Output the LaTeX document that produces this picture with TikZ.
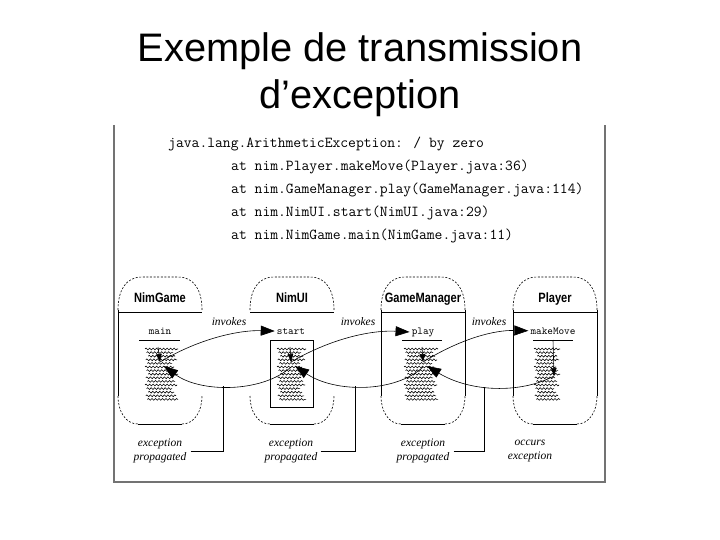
\documentclass[tikz,border=0pt]{standalone}
\usepackage{fontspec}
\setmainfont{Liberation Serif}
\setsansfont{Liberation Sans}
\usetikzlibrary{arrows.meta,decorations.pathmorphing}
\tikzset{
 frame/.style={draw=black!55, line width=1.3pt},
 trace/.style={font=\ttfamily\fontsize{15.2}{16}\selectfont, anchor=base west, inner sep=0},
 title/.style={font=\sffamily\fontsize{39.8}{44}\selectfont, anchor=base, inner sep=0},
 hdr/.style={font=\sffamily\bfseries\fontsize{13.5}{15}\selectfont, inner sep=0, anchor=base},
 meth/.style={font=\ttfamily\fontsize{10.7}{12}\selectfont, inner sep=0, anchor=base},
 lbl/.style={font=\itshape\fontsize{11.5}{14}\selectfont, inner sep=0, align=center},
 capdash/.style={dash pattern=on 2pt off 1.6pt, line width=0.6pt},
 capsolid/.style={line width=0.7pt},
 codeline/.style={line width=0.6pt, decorate, decoration={snake, segment length=3.5pt, amplitude=0.9pt}},
 flow/.style={line width=0.6pt},
 bigtip/.style={-{Triangle[length=14pt,width=10pt]}},
 smalltip/.style={-{Triangle[length=8pt,width=5.5pt]}},
}
\newcommand{\capsuleshape}[2]{%
  \draw[capdash] (#1,310) .. controls (#1,290) and (#1+8,277) .. (#1+24,277) -- (#2-24,277)
     .. controls (#2-8,277) and (#2,290) .. (#2,310);
  \draw[capdash] (#1,396) .. controls (#1,412) and (#1+8,424) .. (#1+20,424);
  \draw[capsolid] (#1+20,424) -- (#2-20,424);
  \draw[capdash] (#2-20,424) .. controls (#2-8,424) and (#2,412) .. (#2,396);
  \draw[capsolid] (#1,312) -- (#2,312);
}
\newcommand{\codeblk}[3]{%
  \foreach \i in {0,...,14}{
    \pgfmathsetmacro{\off}{mod(\i*7,5)*0.8}
    \pgfmathsetmacro{\len}{#3-mod(\i*5,7)}
    \draw[codeline] ({#1+\off},{#2+3.6*\i}) -- ++({\len-\off},0);
  }}
\begin{document}
\begin{tikzpicture}[x=1pt,y=-1pt]
\useasboundingbox (0,0) rectangle (720,540);
% title
\node[title] (t1) at (360,62) {Exemple de transmission};
\node[title] (t2) at (360,109) {d’exception};
% frame
\draw[frame] (114,125) -- (114,482) -- (605,482) -- (605,125);
% stack trace
\node[trace] (s0) at (168,148) {java.lang.ArithmeticException: / by zero};
\node[trace] (s1) at (231,171) {at nim.Player.makeMove(Player.java:36)};
\node[trace] (s2) at (231,194) {at nim.GameManager.play(GameManager.java:114)};
\node[trace] (s3) at (231,217) {at nim.NimUI.start(NimUI.java:29)};
\node[trace] (s4) at (231,240) {at nim.NimGame.main(NimGame.java:11)};
% capsules
\capsuleshape{118}{202}
\capsuleshape{250}{334}
\capsuleshape{381}{465}
\capsuleshape{513}{597}
\draw[capsolid] (118,310) -- (118,396);
\draw[capsolid] (381,310) -- (381,396) (465,310) -- (465,396);
\draw[capsolid] (513,310) -- (513,396) (597,310) -- (597,396);
% headers
\node[hdr] (hg) at (160,302) {\scalebox{0.82}[1]{NimGame}};
\node[hdr] (hu) at (292,302) {\scalebox{0.82}[1]{NimUI}};
\node[hdr] (hm) at (423,302) {\scalebox{0.82}[1]{GameManager}};
\node[hdr] (hp) at (555,302) {\scalebox{0.82}[1]{Player}};
% methods
\node[meth] (main) at (160,334) {main};
\node[meth] (start) at (291,334) {start};
\node[meth] (play) at (423,334) {play};
\node[meth] (mk) at (553,334) {makeMove};
\draw[capsolid] (139,340) -- (180,340);
\draw[capsolid] (270,340) rectangle (313,407);
\draw[capsolid] (402,340) -- (442,340);
\draw[capsolid] (533,340) -- (573,340);
% code
\codeblk{145}{349}{33}
\codeblk{277}{349}{29}
\codeblk{404}{349}{34}
\codeblk{534}{349}{26}
% code points
\coordinate (gTop) at (158,347);
\coordinate (g) at (160,362);
\coordinate (gR) at (164,366);
\coordinate (uTop) at (290,347);
\coordinate (u) at (291,362);
\coordinate (uR) at (295,366);
\coordinate (uS) at (291,367);
\coordinate (mTop) at (422,347);
\coordinate (m) at (423,362);
\coordinate (mR) at (427,366);
\coordinate (mS) at (423,367);
\coordinate (pTop) at (553,340);
\coordinate (p) at (554,376);
% control flow down
\draw[flow,smalltip] (gTop) -- (g);
\draw[flow,smalltip] (uTop) -- (u);
\draw[flow,smalltip] (mTop) -- (m);
\draw[flow,smalltip] (pTop) -- (p);
% invokes
\draw[flow,bigtip] (g) .. controls (200,338) and (240,330) .. ([xshift=-2pt]start.west);
\draw[flow,bigtip] (u) .. controls (332,338) and (372,330) .. ([xshift=-2pt]play.west);
\draw[flow,bigtip] (m) .. controls (462,338) and (495,330) .. ([xshift=-2pt]mk.west);
\node[lbl] (i1) at (229,322) {invokes};
\node[lbl] (i2) at (358,322) {invokes};
\node[lbl] (i3) at (489,322) {invokes};
% returns
\draw[flow,bigtip] (p) .. controls (520,394) and (470,392) .. coordinate[pos=0.57] (c3) (mR);
\draw[flow,bigtip] (mS) .. controls (395,393) and (335,393) .. coordinate[pos=0.56] (c2) (uR);
\draw[flow,bigtip] (uS) .. controls (262,393) and (200,393) .. coordinate[pos=0.55] (c1) (gR);
% labels
\node[lbl] (e1) at (160,451) {exception\\propagated};
\node[lbl] (e2) at (291,451) {exception\\propagated};
\node[lbl] (e3) at (423,451) {exception\\propagated};
\node[lbl] (e4) at (530,451) {occurs\\exception};
\draw[capsolid] ([xshift=4pt]e1.east) -| (c1);
\draw[capsolid] ([xshift=3pt]e2.east) -| (c2);
\draw[capsolid] ([xshift=4pt]e3.east) -| (c3);
\end{tikzpicture}
\end{document}
